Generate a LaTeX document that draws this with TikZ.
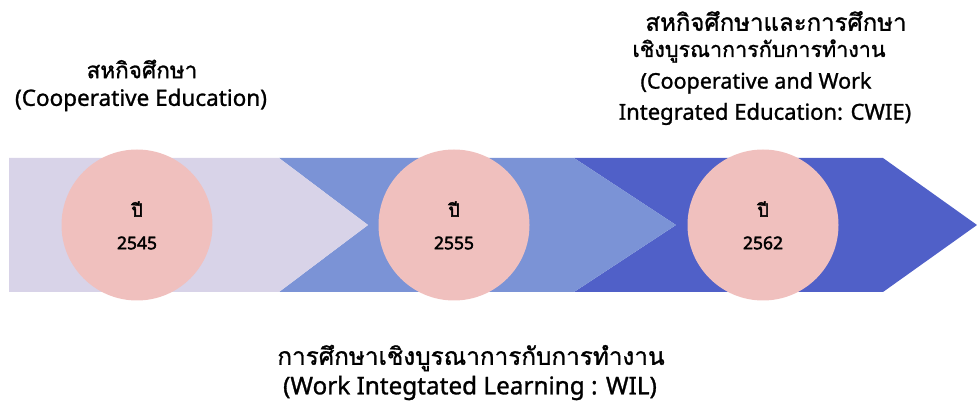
\documentclass[tikz,border=0pt]{standalone}
\usepackage{fontspec}
\setmainfont{Noto Sans}
\newfontfamily\latmed[FakeBold=1.2]{Noto Sans}
\newfontfamily\latbold[FakeBold=2.2]{Noto Sans}
\newfontfamily\thaimed[Script=Thai,FakeBold=1.2]{Loma}
\newfontfamily\thaibold[Script=Thai,FakeBold=2.2]{Loma}
\definecolor{cA}{HTML}{D8D3E8}
\definecolor{cB}{HTML}{7B93D6}
\definecolor{cC}{HTML}{5060C8}
\definecolor{cCirc}{HTML}{F0C0BE}
\begin{document}
\begin{tikzpicture}[x=1pt,y=-1pt,
  yearcirc/.style={circle,fill=cCirc,minimum size=151pt,inner sep=0pt},
  thaitxt/.style={font=\thaimed\fontsize{#1}{31}\selectfont,anchor=center,inner sep=0pt},
  thaitxt/.default=22.5,
  lattxt/.style={font=\latmed\fontsize{#1}{31}\selectfont,anchor=center,inner sep=0pt},
  lattxt/.default=22.5,
  smallthai/.style={font=\thaibold\fontsize{18}{20}\selectfont,inner sep=0pt},
  smalllat/.style={font=\latbold\fontsize{17.5}{20}\selectfont,inner sep=0pt}]
\useasboundingbox (0,0) rectangle (977,403);
\fill[cC] (574,158) -- (883,158) -- (977,225) -- (883,292) -- (574,292) -- (676,225) -- cycle;
\fill[cB] (279,158) -- (574,158) -- (676,225) -- (574,292) -- (279,292) -- (368,225) -- cycle;
\fill[cA] (9,158) -- (279,158) -- (368,225) -- (279,292) -- (9,292) -- cycle;
\node[yearcirc] (c1) at (137,225) {};
\node[yearcirc] (c2) at (454,225) {};
\node[yearcirc] (c3) at (763,225) {};
\node[smallthai] (y1a) at (137,209) {ปี};
\node[smalllat] (y1b) at (137,243) {2545};
\node[smallthai] (y2a) at (454,209) {ปี};
\node[smalllat] (y2b) at (454,243) {2555};
\node[smallthai] (y3a) at (763,209) {ปี};
\node[smalllat] (y3b) at (763,243) {2562};
\node[thaitxt] (t1a) at (142,69) {สหกิจศึกษา};
\node[lattxt] (t1b) at (141,100) {(Cooperative Education)};
\node[thaitxt=24] (t3a) at (776,21) {สหกิจศึกษาและการศึกษา};
\node[thaitxt=21.5] (t3b) at (759,51) {เชิงบูรณาการกับการทำงาน};
\node[lattxt=21.5] (t3c) at (756,83) {(Cooperative and Work};
\node[lattxt=22] (t3d) at (765,114) {Integrated Education: CWIE)};
\node[thaitxt=24.3] (t2a) at (471,358) {การศึกษาเชิงบูรณาการกับการทำงาน};
\node[lattxt=24.3] (t2b) at (470,388) {(Work Integtated Learning : WIL)};
\end{tikzpicture}
\end{document}
